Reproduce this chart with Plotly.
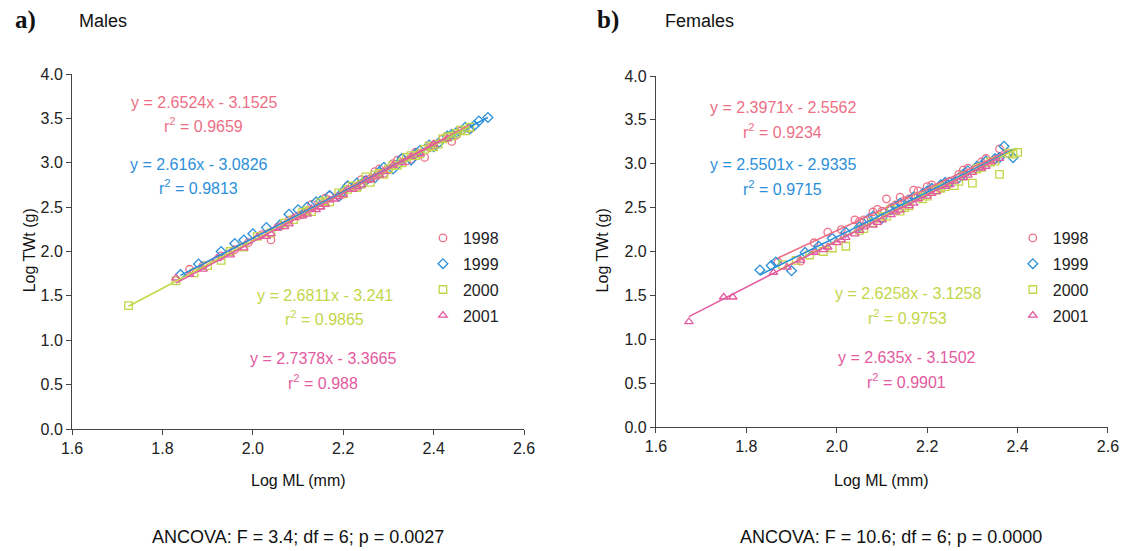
import numpy as np
import plotly.graph_objects as go

W, H = 1131, 551
L_PX, R_PX, T_PX, B_PX = 72, 1117, 74, 429

def px_x(x):
    return (x - L_PX) / (R_PX - L_PX)

def px_y(y):
    return (B_PX - y) / (B_PX - T_PX)

years = ["1998", "1999", "2000", "2001"]
colors = ["#ec6f86", "#2b8fd9", "#c3d64a", "#e35aa0"]
symbols = ["circle-open", "diamond-open", "square-open", "triangle-up-open"]

# ---------------- Males (panel a) ----------------
m98_x = [1.86, 1.89, 1.93, 1.96, 1.99, 2.02, 2.04, 2.06, 2.08, 2.10, 2.12, 2.13, 2.15, 2.17, 2.19,
         2.21, 2.23, 2.25, 2.27, 2.29, 2.31, 2.33, 2.35, 2.38, 2.40, 2.42, 2.44, 2.46, 2.48,
         2.11, 2.16, 2.20, 2.24, 2.26, 2.28, 2.30, 2.32, 2.34, 2.36, 2.39, 2.43, 2.45]
m98_y = [1.80, 1.84, 1.95, 2.02, 2.10, 2.19, 2.13, 2.28, 2.35, 2.40, 2.45, 2.53, 2.52, 2.63, 2.62,
         2.74, 2.73, 2.80, 2.90, 2.88, 2.99, 3.05, 3.04, 3.06, 3.20, 3.27, 3.24, 3.36, 3.38,
         2.42, 2.60, 2.66, 2.81, 2.82, 2.93, 2.92, 3.03, 3.02, 3.12, 3.17, 3.30, 3.31]
m99_x = [1.84, 1.88, 1.93, 1.96, 1.98, 2.00, 2.03, 2.06, 2.08, 2.10, 2.12, 2.14, 2.17, 2.19, 2.21, 2.23,
         2.25, 2.27, 2.29, 2.31, 2.33, 2.35, 2.37, 2.39, 2.41, 2.43, 2.45, 2.47, 2.49, 2.50, 2.52,
         2.15, 2.20, 2.24, 2.28, 2.32, 2.36, 2.40, 2.44, 2.48]
m99_y = [1.74, 1.86, 2.00, 2.09, 2.13, 2.20, 2.27, 2.30, 2.42, 2.47, 2.50, 2.56, 2.63, 2.62, 2.74, 2.77,
         2.80, 2.83, 2.95, 2.93, 3.05, 3.03, 3.14, 3.20, 3.22, 3.30, 3.34, 3.40, 3.42, 3.47, 3.51,
         2.57, 2.68, 2.76, 2.90, 2.98, 3.10, 3.18, 3.32, 3.38]
m00_x = [1.725, 1.83, 1.87, 1.90, 1.93, 1.95, 1.98, 2.01, 2.04, 2.07, 2.09, 2.11, 2.13, 2.15, 2.17, 2.19,
         2.21, 2.23, 2.25, 2.26, 2.28, 2.30, 2.32, 2.34, 2.36, 2.38, 2.40, 2.42, 2.44, 2.46, 2.48,
         2.12, 2.16, 2.20, 2.22, 2.24, 2.27, 2.29, 2.31, 2.33, 2.35, 2.37, 2.39, 2.41, 2.43, 2.45, 2.47]
m00_y = [1.39, 1.67, 1.76, 1.84, 1.90, 2.00, 2.05, 2.17, 2.21, 2.32, 2.36, 2.44, 2.45, 2.55, 2.56, 2.66,
         2.70, 2.72, 2.84, 2.78, 2.88, 2.93, 2.97, 3.06, 3.08, 3.15, 3.18, 3.27, 3.30, 3.37, 3.40,
         2.46, 2.57, 2.65, 2.74, 2.76, 2.86, 2.87, 2.97, 3.00, 3.08, 3.10, 3.19, 3.21, 3.29, 3.33, 3.36]
m01_x = [1.83, 1.86, 1.89, 1.92, 1.95, 1.98, 2.01, 2.03, 2.05, 2.07, 2.09, 2.11, 2.13, 2.15, 2.17, 2.19,
         2.21, 2.23, 2.25, 2.27, 2.29, 2.31, 2.33, 2.35, 2.37, 2.40, 2.43,
         2.04, 2.08, 2.12, 2.14, 2.16, 2.18, 2.20, 2.22, 2.24, 2.26, 2.28]
m01_y = [1.70, 1.74, 1.80, 1.92, 1.96, 2.04, 2.16, 2.17, 2.26, 2.28, 2.38, 2.40, 2.48, 2.50, 2.58, 2.62,
         2.70, 2.73, 2.80, 2.84, 2.90, 2.97, 3.00, 3.07, 3.10, 3.21, 3.27,
         2.20, 2.31, 2.42, 2.47, 2.53, 2.59, 2.64, 2.70, 2.75, 2.81, 2.86]

m_slopes = [2.6524, 2.616, 2.6811, 2.7378]
m_intercepts = [-3.1525, -3.0826, -3.241, -3.3665]
m_r2 = ["0.9659", "0.9813", "0.9865", "0.988"]

# ---------------- Females (panel b) ----------------
f98_x = [1.87, 1.92, 1.95, 1.98, 2.01, 2.04, 2.06, 2.08, 2.10, 2.11, 2.13, 2.15, 2.17, 2.19, 2.21, 2.23,
         2.25, 2.27, 2.29, 2.31, 2.33, 2.35, 2.36, 2.38,
         2.05, 2.09, 2.12, 2.14, 2.16, 2.18, 2.20, 2.24, 2.28, 2.32]
f98_y = [1.88, 1.89, 2.10, 2.22, 2.25, 2.36, 2.36, 2.45, 2.46, 2.60, 2.53, 2.58, 2.70, 2.65, 2.76, 2.72,
         2.80, 2.88, 2.95, 2.96, 3.06, 3.05, 3.17, 3.12,
         2.34, 2.48, 2.50, 2.62, 2.60, 2.69, 2.74, 2.78, 2.93, 3.02]
f99_x = [1.83, 1.855, 1.865, 1.90, 1.93, 1.96, 1.99, 2.02, 2.05, 2.07, 2.10, 2.12, 2.14, 2.17, 2.19, 2.21,
         2.23, 2.25, 2.27, 2.29, 2.31, 2.33, 2.35, 2.37, 2.39,
         2.08, 2.13, 2.16, 2.20, 2.24, 2.28, 2.32, 2.36]
f99_y = [1.79, 1.84, 1.88, 1.78, 1.99, 2.06, 2.15, 2.22, 2.28, 2.37, 2.38, 2.48, 2.55, 2.62, 2.66, 2.72,
         2.76, 2.79, 2.84, 2.92, 2.97, 3.03, 3.06, 3.20, 3.07,
         2.40, 2.51, 2.58, 2.69, 2.79, 2.88, 2.98, 3.07]
f00_x = [1.88, 1.91, 1.94, 1.97, 1.99, 2.02, 2.05, 2.08, 2.10, 2.12, 2.14, 2.16, 2.18, 2.20, 2.22, 2.24,
         2.26, 2.28, 2.30, 2.32, 2.34, 2.36, 2.38, 2.40,
         2.06, 2.11, 2.15, 2.19, 2.23, 2.27, 2.31, 2.35, 2.39]
f00_y = [1.85, 1.90, 1.96, 2.00, 2.04, 2.06, 2.24, 2.33, 2.40, 2.48, 2.46, 2.52, 2.62, 2.63, 2.70, 2.74,
         2.75, 2.86, 2.78, 2.96, 3.02, 2.88, 3.12, 3.13,
         2.26, 2.40, 2.50, 2.60, 2.72, 2.80, 2.94, 3.03, 3.11]
f01_x = [1.673, 1.75, 1.77, 1.86, 1.89, 1.92, 1.95, 1.98, 2.00, 2.02, 2.04, 2.06, 2.08, 2.10, 2.12, 2.14,
         2.16, 2.18, 2.20, 2.22, 2.24, 2.26, 2.28, 2.30, 2.32, 2.34, 2.36,
         1.97, 2.01, 2.05, 2.09, 2.13, 2.17, 2.21, 2.25, 2.29, 2.33]
f01_y = [1.20, 1.48, 1.48, 1.76, 1.82, 1.90, 1.99, 2.05, 2.10, 2.16, 2.20, 2.28, 2.30, 2.36, 2.42, 2.47,
         2.52, 2.60, 2.63, 2.68, 2.74, 2.80, 2.84, 2.90, 2.95, 3.02, 3.06,
         2.02, 2.13, 2.24, 2.33, 2.45, 2.55, 2.66, 2.76, 2.87, 2.97]

f_slopes = [2.3971, 2.5501, 2.6258, 2.635]
f_intercepts = [-2.5562, -2.9335, -3.1258, -3.1502]
f_r2 = ["0.9234", "0.9715", "0.9753", "0.9901"]

x_ticks = [1.6, 1.8, 2.0, 2.2, 2.4, 2.6]
y_ticks = [0.0, 0.5, 1.0, 1.5, 2.0, 2.5, 3.0, 3.5, 4.0]

panels = [
    dict(xs=[m98_x, m99_x, m00_x, m01_x], ys=[m98_y, m99_y, m00_y, m01_y],
         slopes=m_slopes, icpts=m_intercepts, r2=m_r2, xa="x", ya="y", legend="legend", tag="m"),
    dict(xs=[f98_x, f99_x, f00_x, f01_x], ys=[f98_y, f99_y, f00_y, f01_y],
         slopes=f_slopes, icpts=f_intercepts, r2=f_r2, xa="x2", ya="y2", legend="legend2", tag="f"),
]

fig = go.Figure()

for p in panels:
    for i, yr in enumerate(years):
        fig.add_trace(go.Scatter(
            x=p["xs"][i], y=p["ys"][i], mode="markers", name=yr,
            xaxis=p["xa"], yaxis=p["ya"], legend=p["legend"], legendgroup=p["tag"] + yr,
            marker=dict(symbol=symbols[i], size=7.5, color=colors[i], line=dict(width=1.3, color=colors[i])),
        ))
    for i, yr in enumerate(years):
        xs = np.array([min(p["xs"][i]), max(p["xs"][i])])
        fig.add_trace(go.Scatter(
            x=xs, y=p["slopes"][i] * xs + p["icpts"][i], mode="lines",
            xaxis=p["xa"], yaxis=p["ya"], showlegend=False, hoverinfo="skip",
            line=dict(color=colors[i], width=1.6),
        ))

font_fam = "Liberation Sans, Arial, sans-serif"
axis_common = dict(showgrid=False, zeroline=False, showline=True, linecolor="#444", linewidth=1,
                   ticks="outside", ticklen=5, tickcolor="#444", tickwidth=1,
                   tickfont=dict(family=font_fam, size=16, color="#222"), tickformat=".1f")

annotations = []

def eq_text(slope, icpt):
    return f"y = {slope:g}x - {abs(icpt):g}"

# equation label centres (pixels) for each panel: (x, y_eq, y_r2)
eq_pos = [
    [(205, 102, 125), (200, 164, 187), (327, 295, 318), (325, 358, 382)],
    [(789, 107, 131), (789, 164, 188), (915, 293, 317), (914, 357, 381)],
]
for k, p in enumerate(panels):
    for i in range(4):
        cx, ye, yr2 = eq_pos[k][i]
        annotations.append(dict(x=px_x(cx), y=px_y(ye), xref="paper", yref="paper", showarrow=False,
                                text=eq_text(p["slopes"][i], p["icpts"][i]),
                                font=dict(family=font_fam, size=16, color=colors[i]),
                                xanchor="center", yanchor="middle"))
        annotations.append(dict(x=px_x(cx), y=px_y(yr2), xref="paper", yref="paper", showarrow=False,
                                text=f"r<sup>2</sup> = {p['r2'][i]}",
                                font=dict(family=font_fam, size=16, color=colors[i]),
                                xanchor="center", yanchor="middle"))

# panel labels and titles
for lab, lx, title, tx in [("a)", 12, "Males", 77), ("b)", 600, "Females", 668)]:
    annotations.append(dict(x=px_x(lx), y=px_y(20), xref="paper", yref="paper", showarrow=False,
                            text=f"<b>{lab}</b>", xanchor="left", yanchor="middle",
                            font=dict(family="Liberation Serif, Times New Roman, serif", size=25, color="#111")))
    annotations.append(dict(x=px_x(tx), y=px_y(21), xref="paper", yref="paper", showarrow=False,
                            text=title, xanchor="left", yanchor="middle",
                            font=dict(family=font_fam, size=18, color="#111")))

# axis titles
for cx in [300, 889]:
    annotations.append(dict(x=px_x(cx), y=px_y(480), xref="paper", yref="paper", showarrow=False,
                            text="Log ML (mm)", xanchor="center", yanchor="middle",
                            font=dict(family=font_fam, size=16, color="#111")))
for cx in [29, 607]:
    annotations.append(dict(x=px_x(cx), y=px_y(250), xref="paper", yref="paper", showarrow=False,
                            text="Log TWt (g)", textangle=-90, xanchor="center", yanchor="middle",
                            font=dict(family=font_fam, size=16, color="#111")))

# ANCOVA notes
for cx, txt in [(300, "ANCOVA: F = 3.4; df = 6; p = 0.0027"), (898, "ANCOVA: F = 10.6; df = 6; p = 0.0000")]:
    annotations.append(dict(x=px_x(cx), y=px_y(537), xref="paper", yref="paper", showarrow=False,
                            text=txt, xanchor="center", yanchor="middle",
                            font=dict(family=font_fam, size=18, color="#111")))

legend_common = dict(xanchor="left", yanchor="top", bgcolor="rgba(0,0,0,0)",
                     font=dict(family=font_fam, size=16, color="#222"),
                     traceorder="grouped", tracegroupgap=2)

fig.update_layout(
    width=W, height=H, autosize=False,
    margin=dict(l=L_PX, r=W - R_PX, t=T_PX, b=H - B_PX, pad=0),
    paper_bgcolor="white", plot_bgcolor="white",
    xaxis=dict(domain=[0, px_x(528)], range=[1.6, 2.6], tickvals=x_ticks, anchor="y", **axis_common),
    yaxis=dict(domain=[0, 1], range=[0, 4.0], tickvals=y_ticks, anchor="x", **axis_common),
    xaxis2=dict(domain=[px_x(661), 1], range=[1.6, 2.6], tickvals=x_ticks, anchor="y2", **axis_common),
    yaxis2=dict(domain=[px_y(427), px_y(76)], range=[0, 4.0], tickvals=y_ticks, anchor="x2", **axis_common),
    legend=dict(x=px_x(426), y=px_y(221), **legend_common),
    legend2=dict(x=px_x(1021), y=px_y(221), **legend_common),
    annotations=annotations,
    showlegend=True,
)

fig.write_html("out.html", config={"displayModeBar": False},
               post_script="document.body.style.margin='0';document.body.style.overflow='hidden';")
